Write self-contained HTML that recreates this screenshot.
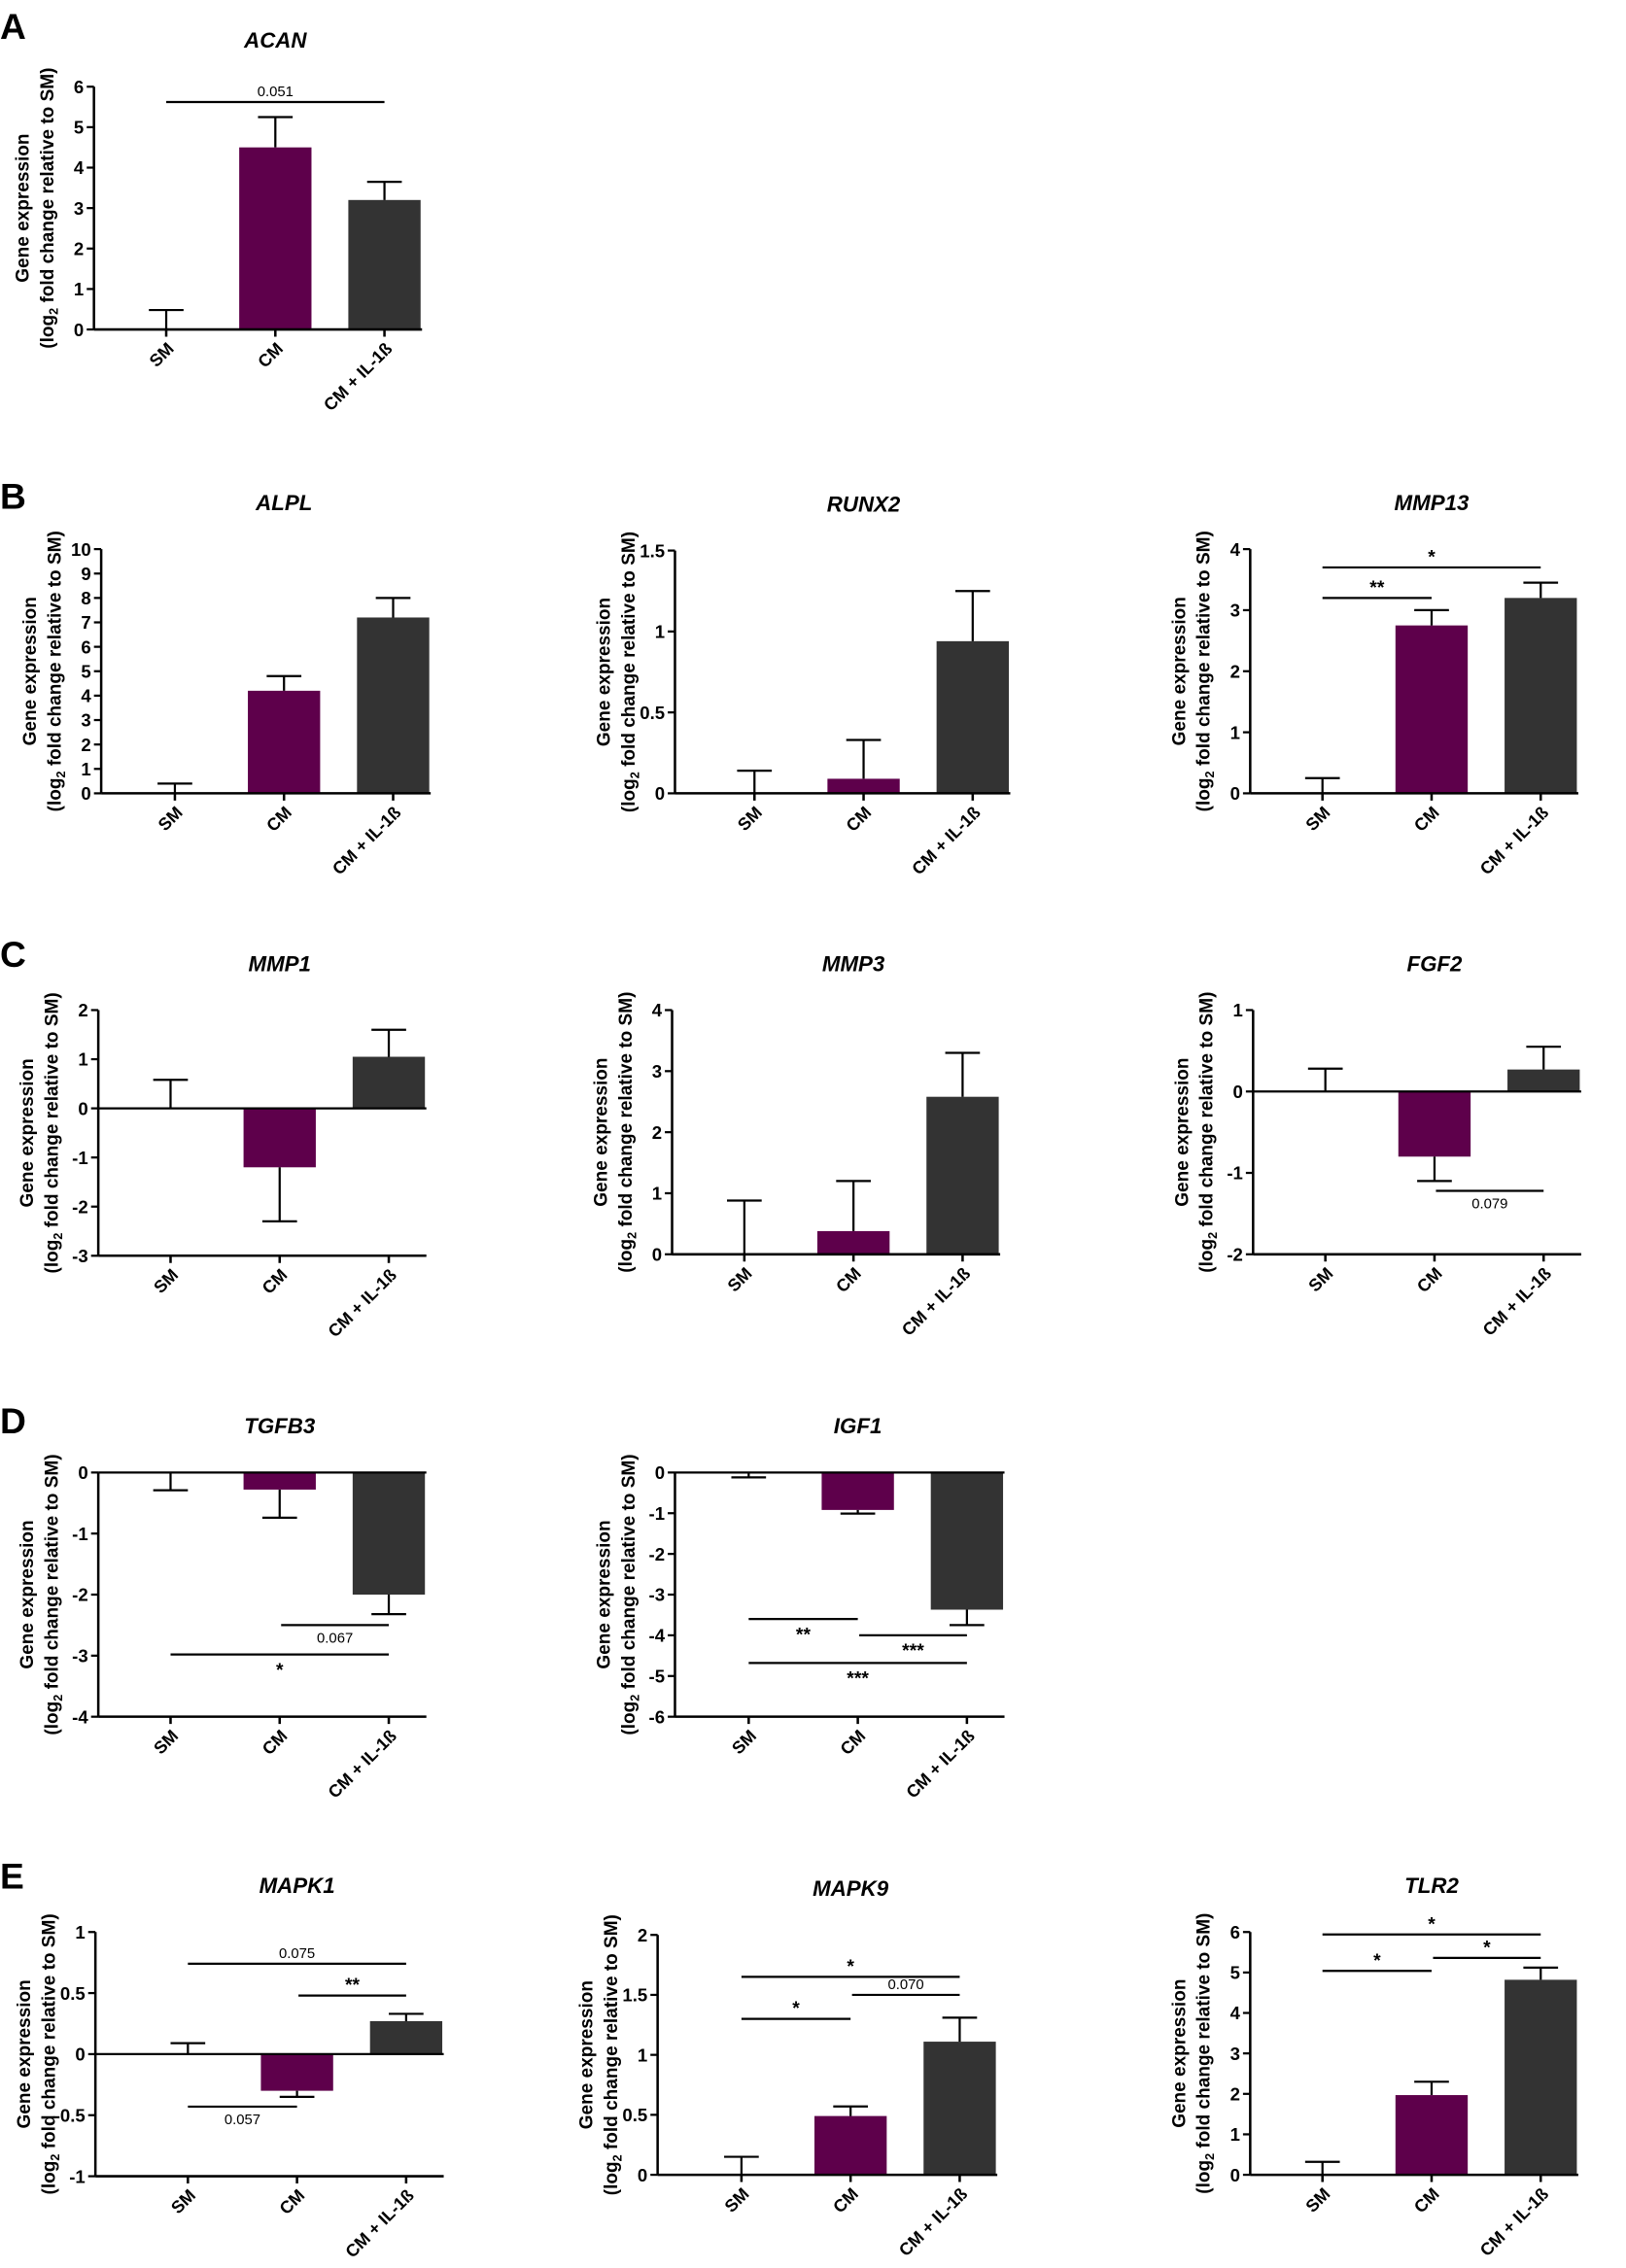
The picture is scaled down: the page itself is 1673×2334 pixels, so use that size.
<!DOCTYPE html>
<html><head><meta charset="utf-8"><style>
html,body{margin:0;padding:0;background:#fff;}
svg{display:block;font-family:"Liberation Sans",Arial,sans-serif;}
</style></head><body>
<svg id="fig" width="1673" height="2334" viewBox="0 0 1125 1569.5" xmlns="http://www.w3.org/2000/svg"></svg>
<script>
const groups = ["SM","CM","CM + IL-1ß"];
const colors = ["#ffffff","#5e004b","#333333"];
// values (means)
const acanVals=[0,4.5,3.2], acanErr=[0.48,5.25,3.65];
const alplVals=[0,4.2,7.2], alplErr=[0.4,4.8,8.0];
const runx2Vals=[0,0.09,0.94], runx2Err=[0.14,0.33,1.25];
const mmp13Vals=[0,2.75,3.2], mmp13Err=[0.25,3.0,3.45];
const mmp1Vals=[0,-1.2,1.05], mmp1Err=[0.58,-2.3,1.6];
const mmp3Vals=[0,0.38,2.58], mmp3Err=[0.88,1.2,3.3];
const fgf2Vals=[0,-0.8,0.27], fgf2Err=[0.28,-1.1,0.55];
const tgfb3Vals=[0,-0.28,-2.0], tgfb3Err=[-0.29,-0.74,-2.32];
const igf1Vals=[0,-0.92,-3.37], igf1Err=[-0.12,-1.01,-3.75];
const mapk1Vals=[0,-0.3,0.27], mapk1Err=[0.09,-0.35,0.33];
const mapk9Vals=[0,0.49,1.11], mapk9Err=[0.15,0.57,1.31];
const tlr2Vals=[0,1.97,4.82], tlr2Err=[0.32,2.3,5.12];
// tick labels
const acanTicks=[0,1,2,3,4,5,6];
const alplTicks=[0,1,2,3,4,5,6,7,8,9,10];
const runx2Ticks=[0,0.5,1,1.5];
const mmp13Ticks=[0,1,2,3,4];
const mmp1Ticks=[-3,-2,-1,0,1,2];
const mmp3Ticks=[0,1,2,3,4];
const fgf2Ticks=[-2,-1,0,1];
const tgfb3Ticks=[-4,-3,-2,-1,0];
const igf1Ticks=[-6,-5,-4,-3,-2,-1,0];
const mapk1Ticks=[-1,-0.5,0,0.5,1];
const mapk9Ticks=[0,0.5,1,1.5,2];
const tlr2Ticks=[0,1,2,3,4,5,6];
// significance brackets [from, to, level, label, above?]
const acanSig=[[0,2,5.62,"0.051",1]];
const mmp13Sig=[[0,1,3.2,"**",1],[0,2,3.7,"*",1]];
const fgf2Sig=[[1,2,-1.22,"0.079",0]];
const tgfb3Sig=[[1,2,-2.5,"0.067",0],[0,2,-2.98,"*",0]];
const igf1Sig=[[0,1,-3.6,"**",0],[1,2,-4.0,"***",0],[0,2,-4.68,"***",0]];
const mapk1Sig=[[0,2,0.74,"0.075",1],[1,2,0.48,"**",1],[0,1,-0.43,"0.057",0]];
const mapk9Sig=[[0,1,1.3,"*",1],[1,2,1.5,"0.070",1],[0,2,1.65,"*",1]];
const tlr2Sig=[[0,1,5.04,"*",1],[1,2,5.36,"*",1],[0,2,5.94,"*",1]];

const NS="http://www.w3.org/2000/svg";
const fig=document.getElementById('fig');
function mk(tag,attrs,parent,text){const e=document.createElementNS(NS,tag);for(const k in attrs)e.setAttribute(k,attrs[k]);if(text!==undefined)e.textContent=text;(parent||fig).appendChild(e);return e;}

function panel(cfg){
  const {id,title,axX,firstX,yTop,yBot,ticks,vals,errs,sig}=cfg;
  const g=mk('g',{});
  
  
  const mn=ticks[0], mx=ticks[ticks.length-1];
  const y=v=>yBot-(v-mn)/(mx-mn)*(yBot-yTop);
  const xs=i=>firstX+i*75.5;
  const right=xs(2)+26;
  vals.forEach((v,i)=>{
    const y0=y(0), y1=y(v);
    if(v!==0){
      const r=mk('rect',{x:xs(i)-25,y:Math.min(y0,y1),width:50,height:Math.abs(y1-y0),fill:colors[i]},g);
      
      
    }
    const e=errs[i];
    const el=mk('path',{d:`M${xs(i)},${y1}V${y(e)}M${xs(i)-12},${y(e)}H${xs(i)+12}`,stroke:'#000','stroke-width':1.5,fill:'none'},g);
    
    
  });
  const ya=mk('path',{d:`M${axX},${yTop}V${yBot}`,stroke:'#000','stroke-width':1.7},g);
  
  
  const xa=mk('path',{d:`M${axX},${yBot}H${right}`+groups.map((_,i)=>`M${xs(i)},${yBot}v5`).join(''),stroke:'#000','stroke-width':1.7},g);
  
  
  if(mn<0&&mx>=0){
    const z=mk('path',{d:`M${axX},${y(0)}H${right}`,stroke:'#000','stroke-width':1.5},g);
    
    
  }
  ticks.forEach(t=>{
    mk('path',{d:`M${axX-5},${y(t)}H${axX}`,stroke:'#000','stroke-width':1.5},g);
    const tl=mk('text',{x:axX-7,y:y(t)+4.5,'text-anchor':'end','font-size':12.5,'font-weight':'bold'},g,String(t));
    
    
  });
  groups.forEach((gn,i)=>{
    const tx=xs(i)+6, ty=yBot+14;
    const t=mk('text',{x:tx,y:ty,'text-anchor':'end','font-size':12,'font-weight':'bold',transform:`rotate(-45 ${tx} ${ty})`},g,gn);
    
    
  });
  const tt=mk('text',{x:xs(1),y:yTop-27,'text-anchor':'middle','font-size':15,'font-weight':'bold','font-style':'italic'},g,title);
  
  
  const mid=(yTop+yBot)/2;
  const lx1=axX-45, lx2=axX-28;
  const yt1=mk('text',{x:lx1,y:mid,'text-anchor':'middle','font-size':12.8,'font-weight':'bold',transform:`rotate(-90 ${lx1} ${mid})`},g,'Gene expression');
  
  
  const yt2=mk('text',{x:lx2,y:mid,'text-anchor':'middle','font-size':12.8,'font-weight':'bold',transform:`rotate(-90 ${lx2} ${mid})`},g);
  mk('tspan',{},yt2,'(log');
  mk('tspan',{'font-size':8.5,dy:3},yt2,'2');
  mk('tspan',{dy:-3},yt2,' fold change relative to SM)');
  
  
  (sig||[]).forEach(s=>{
    const [a,b,lv,lab,above]=s;
    const x1=xs(a)+(a===1?1:0), x2=xs(b);
    const yy=y(lv);
    const l=mk('path',{d:`M${x1},${yy}H${x2}`,stroke:'#000','stroke-width':1.5},g);
    
    
    const isStar=lab.indexOf('*')>=0;
    const ty=above?yy-(isStar?3:4):yy+(isStar?15:12);
    const t=mk('text',{x:(x1+x2)/2,y:ty,'text-anchor':'middle','font-size':isStar?13:10,'font-weight':isStar?'bold':'normal'},g,lab);
    
    
  });
}

[["A",20],["B",345],["C",662],["D",985],["E",1300]].forEach(([l,yy])=>{
  const t=mk('text',{x:0,y:yy+7,'font-size':25,'font-weight':'bold'},fig,l);
  
  
});

panel({id:'acan',title:'ACAN',axX:65,firstX:115,yTop:60,yBot:228,ticks:acanTicks,vals:acanVals,errs:acanErr,sig:acanSig});
panel({id:'alpl',title:'ALPL',axX:70,firstX:121,yTop:380,yBot:549,ticks:alplTicks,vals:alplVals,errs:alplErr});
panel({id:'runx2',title:'RUNX2',axX:467,firstX:522,yTop:381,yBot:549,ticks:runx2Ticks,vals:runx2Vals,errs:runx2Err});
panel({id:'mmp13',title:'MMP13',axX:865,firstX:915,yTop:380,yBot:549,ticks:mmp13Ticks,vals:mmp13Vals,errs:mmp13Err,sig:mmp13Sig});
panel({id:'mmp1',title:'MMP1',axX:68,firstX:118,yTop:699,yBot:869,ticks:mmp1Ticks,vals:mmp1Vals,errs:mmp1Err});
panel({id:'mmp3',title:'MMP3',axX:465,firstX:515,yTop:699,yBot:868,ticks:mmp3Ticks,vals:mmp3Vals,errs:mmp3Err});
panel({id:'fgf2',title:'FGF2',axX:867,firstX:917,yTop:699,yBot:868,ticks:fgf2Ticks,vals:fgf2Vals,errs:fgf2Err,sig:fgf2Sig});
panel({id:'tgfb3',title:'TGFB3',axX:68,firstX:118,yTop:1019,yBot:1188,ticks:tgfb3Ticks,vals:tgfb3Vals,errs:tgfb3Err,sig:tgfb3Sig});
panel({id:'igf1',title:'IGF1',axX:467,firstX:518,yTop:1019,yBot:1188,ticks:igf1Ticks,vals:igf1Vals,errs:igf1Err,sig:igf1Sig});
panel({id:'mapk1',title:'MAPK1',axX:66,firstX:130,yTop:1337,yBot:1506,ticks:mapk1Ticks,vals:mapk1Vals,errs:mapk1Err,sig:mapk1Sig});
panel({id:'mapk9',title:'MAPK9',axX:455,firstX:513,yTop:1339,yBot:1505,ticks:mapk9Ticks,vals:mapk9Vals,errs:mapk9Err,sig:mapk9Sig});
panel({id:'tlr2',title:'TLR2',axX:865,firstX:915,yTop:1337,yBot:1505,ticks:tlr2Ticks,vals:tlr2Vals,errs:tlr2Err,sig:tlr2Sig});
</script>
</body></html>
